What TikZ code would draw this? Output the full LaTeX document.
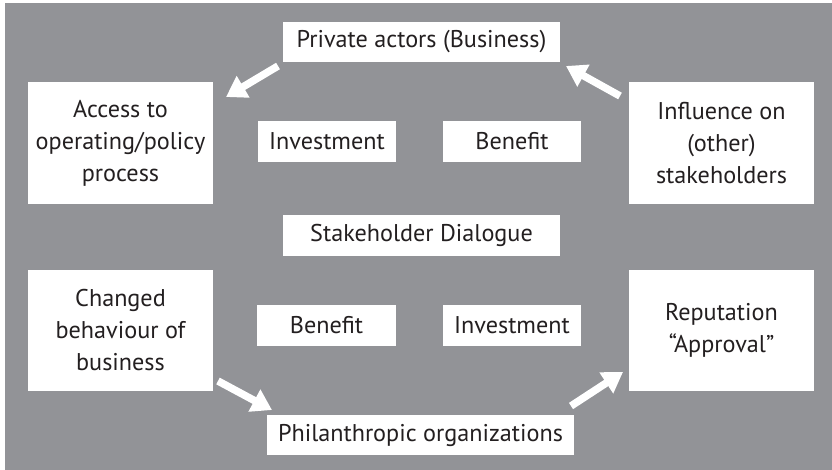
\documentclass[tikz,border=0pt]{standalone}
\usepackage{fontspec}
\setmainfont{PT Sans}
\usetikzlibrary{arrows.meta}
\definecolor{bggray}{RGB}{146,147,151}
\definecolor{txt}{RGB}{35,31,32}
\tikzset{
  box/.style={fill=white, inner sep=0pt, align=center, text=txt,
    font=\fontsize{24.2}{32}\selectfont},
  blockarrow/.style={white, line width=7.5pt,
    -{Triangle[length=20pt,width=24pt]}}
}
\begin{document}
\begin{tikzpicture}[x=1pt,y=-1pt]
\useasboundingbox (0,0) rectangle (832,470);
\fill[white] (0,0) rectangle (832,470);
\fill[bggray] (5,3) rectangle (832,470);

\node[box, minimum width=277pt, minimum height=40pt] (pa) at (421.5,42) {Private actors (Business)};
\node[box, minimum width=185pt, minimum height=122pt] (acc) at (120.5,143) {Access to\\operating/policy\\process};
\node[box, minimum width=185pt, minimum height=122pt] (inf) at (721.5,143) {Influence on\\(other)\\stakeholders};
\node[box, minimum width=138pt, minimum height=41pt] (inv1) at (327,141.5) {Investment};
\node[box, minimum width=138pt, minimum height=41pt] (ben1) at (512,141.5) {Benefit};
\node[box, minimum width=277pt, minimum height=41pt] (sd) at (421.5,235.5) {Stakeholder Dialogue};
\node[box, minimum width=185pt, minimum height=121pt] (chg) at (120.5,330.5) {Changed\\behaviour of\\business};
\node[box, minimum width=185pt, minimum height=121pt] (rep) at (721.5,330.5) {Reputation\\“Approval”};
\node[box, minimum width=139pt, minimum height=41pt] (ben2) at (326.5,325.5) {Benefit};
\node[box, minimum width=138pt, minimum height=41pt] (inv2) at (512,325.5) {Investment};
\node[box, minimum width=307pt, minimum height=40pt] (phil) at (420.5,435) {Philanthropic organizations};

\coordinate (a1s) at (278,66);
\coordinate (a1e) at (226,97);
\coordinate (a2s) at (620,96);
\coordinate (a2e) at (566,66);
\coordinate (a3s) at (218,381);
\coordinate (a3e) at (272,410);
\coordinate (a4s) at (571,406);
\coordinate (a4e) at (623,372);

\draw[blockarrow] (a1s) -- (a1e);
\draw[blockarrow] (a2s) -- (a2e);
\draw[blockarrow] (a3s) -- (a3e);
\draw[blockarrow] (a4s) -- (a4e);
\end{tikzpicture}
\end{document}
